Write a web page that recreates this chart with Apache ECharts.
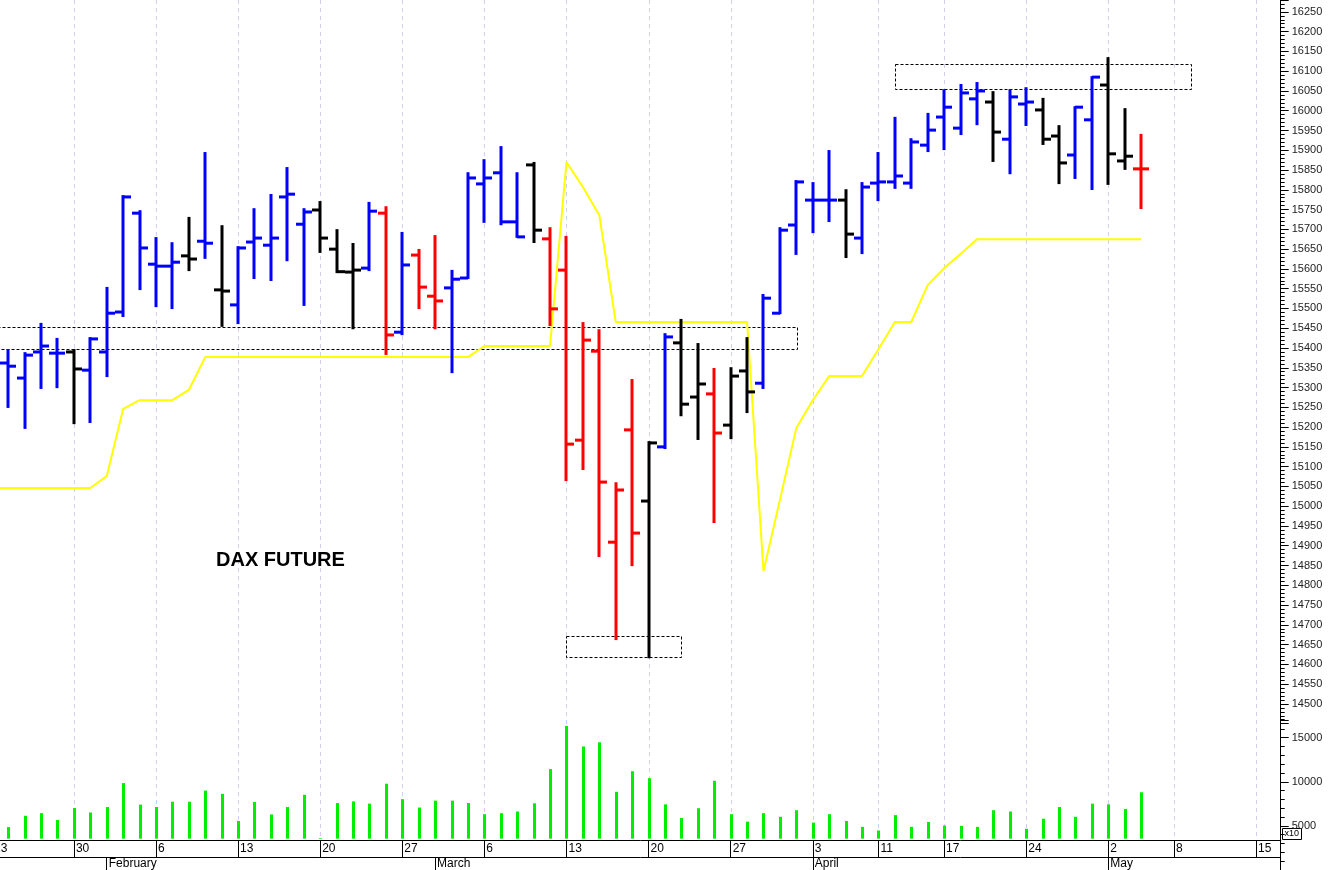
<!DOCTYPE html>
<html><head><meta charset="utf-8">
<script src="https://cdn.jsdelivr.net/npm/echarts@6/dist/echarts.min.js"></script>
<style>html,body{margin:0;padding:0;background:#fff}#c{width:1328px;height:870px}</style>
</head><body><div id="c"></div>
<script>
// ---------- DATA ----------
const dates = [
 '2023-01-23','2023-01-24','2023-01-25','2023-01-26','2023-01-27','2023-01-30','2023-01-31',
 '2023-02-01','2023-02-02','2023-02-03','2023-02-06','2023-02-07','2023-02-08','2023-02-09','2023-02-10',
 '2023-02-13','2023-02-14','2023-02-15','2023-02-16','2023-02-17','2023-02-20','2023-02-21','2023-02-22',
 '2023-02-23','2023-02-24','2023-02-27','2023-02-28',
 '2023-03-01','2023-03-02','2023-03-03','2023-03-06','2023-03-07','2023-03-08','2023-03-09','2023-03-10',
 '2023-03-13','2023-03-14','2023-03-15','2023-03-16','2023-03-17','2023-03-20','2023-03-21','2023-03-22',
 '2023-03-23','2023-03-24','2023-03-27','2023-03-28','2023-03-29','2023-03-30','2023-03-31',
 '2023-04-03','2023-04-04','2023-04-05','2023-04-06','2023-04-11','2023-04-12','2023-04-13','2023-04-14',
 '2023-04-17','2023-04-18','2023-04-19','2023-04-20','2023-04-21','2023-04-24','2023-04-25','2023-04-26',
 '2023-04-27','2023-04-28',
 '2023-05-02','2023-05-03','2023-05-04','2023-05-05','2023-05-08','2023-05-09','2023-05-10','2023-05-11',
 '2023-05-12','2023-05-15','2023-05-16'
];
const N8 = [null,null,null,null,null,null,null,null];
const openPx = [null,
 15362,15324,15390,15387,15390,15344,15390,15491,15741,15612,
 15607,15633,15670,15547,15509,15668,15660,15782,15713,15749,
 15650,15592,15602,15741,15440,15635,15531,15552,15577,15815,
 15843,15719,15863,15676,15597,15167,15392,14909,15193,15013,
 15150,15413,15276,15284,15205,15342,15311,15488,15711,15774,
 15774,15774,15678,15817,15820,15817,15913,15984,15956,16030,
 16022,15928,16017,16002,15936,15888,15977,16065,15873,15853].concat(N8);
const highPx = [null,
 15395,15387,15461,15423,15395,15425,15552,15784,15746,15678,
 15665,15729,15893,15708,15655,15751,15787,15855,15751,15769,
 15698,15663,15767,15756,15691,15648,15683,15595,15842,15875,
 15908,15842,15868,15703,15681,15463,15445,15058,15319,15162,
 15435,15471,15410,15347,15349,15425,15534,15703,15822,15817,
 15898,15799,15817,15893,15982,15928,15992,16052,16065,16070,
 16047,16052,16057,16030,15961,16009,16085,16133,16004,15939].concat(N8);
const lowPx = [null,
 15251,15198,15299,15301,15210,15213,15329,15481,15549,15506,
 15501,15597,15628,15456,15463,15577,15572,15622,15509,15643,
 15592,15450,15597,15385,15435,15501,15450,15339,15577,15719,
 15713,15681,15668,15458,15066,15094,14874,14664,14851,14618,
 15147,15230,15170,14960,15172,15238,15299,15488,15638,15693,
 15721,15630,15640,15774,15805,15805,15898,15903,15941,15966,
 15873,15842,15964,15916,15817,15830,15802,15815,15853,15754].concat(N8);
const closePx = [null,
 15354,15382,15405,15387,15347,15423,15488,15782,15653,15607,
 15617,15625,15665,15544,15653,15678,15678,15789,15744,15678,
 15593,15597,15746,15433,15610,15554,15519,15574,15830,15830,
 15719,15681,15698,15499,15157,15420,15061,15041,14932,15160,
 15428,15258,15309,15185,15329,15289,15526,15698,15820,15774,
 15774,15688,15807,15820,15835,15921,15951,16009,16045,16050,
 15946,16035,16022,15928,15868,16009,16085,15891,15885,15853].concat(N8);
// bar tone: B = blue, K = black, R = red
const barTone = [null,
 'B','B','B','B','K','B','B','B','B','B',
 'B','K','B','K','B','B','B','B','B','K',
 'K','K','B','R','B','R','R','B','B','B',
 'B','B','K','R','R','R','R','R','R','K',
 'B','K','K','R','K','K','B','B','B','B',
 'B','K','B','B','B','B','B','B','B','B',
 'K','B','B','K','K','B','B','K','K','R'].concat(N8);
const volume = [null,
 4860,6140,6440,5670,7030,6520,7140,9850,7410,7140,
 7740,7740,9000,8630,5560,7700,6300,7140,8520,3630,
 7590,7780,7520,9780,8030,7080,7860,7860,7590,6330,
 6440,6630,7560,11440,16330,14000,14480,8860,11190,10410,
 7440,5890,7000,10110,6330,5480,6440,6030,6780,5370,
 6330,5560,4890,4480,6220,4890,5440,5030,5000,4890,
 6780,6630,4670,5810,7140,6030,7520,7440,6920,8810].concat(N8);
const yellowLine = [15046,
 15046,15046,15046,15046,15046,15046,15076,15246,15268,15268,
 15268,15294,15377,15377,15377,15377,15377,15377,15377,15377,
 15377,15377,15377,15377,15377,15377,15377,15377,15377,15405,
 15405,15405,15405,15405,15870,15807,15736,15466,15466,15466,
 15466,15466,15466,15466,15466,15466,14836,15016,15198,15268,
 15329,15329,15329,15397,15466,15466,15559,15602,15638,15675,
 15675,15675,15675,15675,15675,15675,15675,15675,15675,15675].concat(N8);
// dashed boxes
const zoneStart = ['2023-01-23','2023-03-13','2023-04-12'];
const zoneEnd   = ['2023-03-31','2023-03-22','2023-05-09'];
const zoneLow   = [15397,14618,16055];
const zoneHigh  = [15453,14671,16118];
const priceTicks = {min:14450, max:16280, step:50};
const volumeTicks = {min:0, max:17000, step:5000};
const volumeAtAxisLine = 3550;
const monthNames = ['January','February','March','April','May','June'];
const chartTitle = 'DAX FUTURE';
const volumeUnit = 'x10';

// ---------- helpers ----------
const TONE = {B:'#0000ff', K:'#000000', R:'#ff0000'};
const dObj = dates.map(s => new Date(s + 'T12:00:00Z'));
const isWeekStart = dates.map((s,i) => i===0 || dObj[i].getUTCDay() < dObj[i-1].getUTCDay() || (dObj[i]-dObj[i-1]) > 4*86400000);
const isMonthStart = dates.map((s,i) => i>0 && dObj[i].getUTCMonth() !== dObj[i-1].getUTCMonth());
const X_MIN = 0.5, X_MAX = dates.length - 0.5;
const weekIdx = [], monthIdx = [];
dates.forEach((d,k) => { if (isWeekStart[k] && k >= X_MIN) weekIdx.push(k); if (isMonthStart[k]) monthIdx.push(k); });
const ohlcData = [], volData = [], yellowData = [];
dates.forEach((d,k) => {
  if (openPx[k] != null) ohlcData.push([k, openPx[k], highPx[k], lowPx[k], closePx[k]]);
  if (volume[k] != null) volData.push([k, volume[k]]);
  if (yellowLine[k] != null) yellowData.push([k, yellowLine[k]]);
});
const weekData = dates.map((d,k) => [k, 0]).filter(p => isWeekStart[p[0]]);
const zoneData = zoneStart.map((s,i) => [dates.indexOf(s), dates.indexOf(zoneEnd[i]), zoneLow[i], zoneHigh[i]]);

const FONT = '"Liberation Sans", Arial, sans-serif';
const GL = 0, GR = 47.3;
const hiddenX = (g) => ({type:'value', gridIndex:g, min:X_MIN, max:X_MAX, show:false});

const chart = echarts.init(document.getElementById('c'), null, {renderer:'canvas'});
chart.setOption({
  animation: false,
  backgroundColor: '#ffffff',
  title: {text: chartTitle, left: 211, top: 545, textStyle: {fontFamily: FONT, fontSize: 20, fontWeight: 'bold', color: '#000'}},
  grid: [
    {left: GL, right: GR, top: 0, height: 723.7},
    {left: GL, right: GR, top: 720, height: 151.5},
    {left: GL, right: GR, top: 0, height: 840}
  ],
  xAxis: [
    hiddenX(0), hiddenX(1),
    {type:'value', gridIndex:2, min:X_MIN, max:X_MAX, position:'bottom',
     axisLine: {show:true, lineStyle:{color:'#000', width:1}},
     axisTick: {show:true, length:17, lineStyle:{color:'#000'}, customValues: weekIdx},
     axisLabel: {show:true, customValues: weekIdx, formatter: (v) => String(parseInt(dates[Math.round(v)].slice(8),10)),
       align:'left', padding:[0,0,0,2], margin:3, fontSize:12, color:'#000', fontFamily: FONT,
       showMinLabel:true, showMaxLabel:true},
     splitLine: {show:false}},
    {type:'value', gridIndex:2, min:X_MIN, max:X_MAX, position:'bottom', offset: 17,
     axisLine: {show:true, lineStyle:{color:'#000', width:1}},
     axisTick: {show:true, length:13, lineStyle:{color:'#000'}, customValues: monthIdx},
     axisLabel: {show:true, customValues: monthIdx, formatter: (v) => monthNames[parseInt(dates[Math.round(v)].slice(5,7),10)-1],
       align:'left', padding:[0,0,0,2], margin:1, fontSize:12, color:'#000', fontFamily: FONT},
     splitLine: {show:false}}
  ],
  yAxis: [
    {type:'value', gridIndex:0, position:'right', min: priceTicks.min, max: priceTicks.max, interval: priceTicks.step,
     axisLine:{show:true, lineStyle:{color:'#000'}},
     axisTick:{show:true, length:8, lineStyle:{color:'#000'}},
     minorTick:{show:true, splitNumber:5, length:4, lineStyle:{color:'#000'}},
     splitLine:{show:false},
     axisLabel:{margin:11, fontSize:11, color:'#222', fontFamily: FONT,
       formatter:(v) => (v % 50 === 0 && v >= 14500) ? String(v) : ''}},
    {type:'value', gridIndex:1, position:'right', min: volumeTicks.min, max: volumeTicks.max, interval: volumeTicks.step,
     axisLine:{show:true, lineStyle:{color:'#000'}},
     axisTick:{show:true, length:8, lineStyle:{color:'#000'}},
     minorTick:{show:true, splitNumber:5, length:4, lineStyle:{color:'#000'}},
     splitLine:{show:false},
     axisLabel:{margin:11, fontSize:11, color:'#222', fontFamily: FONT,
       formatter:(v) => (v > 0 && v % 5000 === 0) ? String(v) : ''}},
    {type:'value', gridIndex:2, min:0, max:1, show:false}
  ],
  series: [
    {type:'custom', name:'weeks', xAxisIndex:2, yAxisIndex:2, z:0, silent:true, data: weekData,
     encode:{x:0, y:1},
     renderItem: (params, api) => {
       const x = Math.round(api.coord([api.value(0), 0])[0]) + 0.5;
       const cs = params.coordSys;
       return {type:'line', shape:{x1:x, y1:cs.y, x2:x, y2:cs.y+cs.height},
               style:{stroke:'#cfd0ec', lineWidth:1, lineDash:[4,4]}};
     }},
    {type:'custom', name:'zones', xAxisIndex:0, yAxisIndex:0, z:1, silent:true, data: zoneData,
     encode:{x:[0,1], y:[2,3]},
     renderItem: (params, api) => {
       const p0 = api.coord([api.value(0), api.value(3)]);
       const p1 = api.coord([api.value(1), api.value(2)]);
       return {type:'rect', shape:{x:Math.round(p0[0])+0.5, y:Math.round(p0[1])+0.5, width:Math.round(p1[0]-p0[0]), height:Math.round(p1[1]-p0[1])},
               style:{fill:null, stroke:'#000', lineWidth:1, lineDash:[3,2]}};
     }},
    {type:'line', name:'yellow', xAxisIndex:0, yAxisIndex:0, z:2, data: yellowData, showSymbol:false, symbol:'none',
     lineStyle:{color:'#ffff00', width:2}, clip:true, silent:true},
    {type:'custom', name:'ohlc', xAxisIndex:0, yAxisIndex:0, z:3, silent:true, data: ohlcData,
     encode:{x:0, y:[1,2,3,4]},
     renderItem: (params, api) => {
       const k = api.value(0);
       const po = api.coord([k, api.value(1)]);
       const ph = api.coord([k, api.value(2)]);
       const pl = api.coord([k, api.value(3)]);
       const pc = api.coord([k, api.value(4)]);
       const col = TONE[barTone[k]];
       const x = Math.round(ph[0]), t = 8;
       return {type:'group', children:[
         {type:'line', shape:{x1:x, y1:ph[1]-1, x2:x, y2:pl[1]+1}, style:{stroke:col, lineWidth:3}},
         {type:'line', shape:{x1:x-t, y1:po[1], x2:x, y2:po[1]}, style:{stroke:col, lineWidth:3}},
         {type:'line', shape:{x1:x, y1:pc[1], x2:x+t, y2:pc[1]}, style:{stroke:col, lineWidth:3}}
       ]};
     }},
    {type:'custom', name:'volume', xAxisIndex:1, yAxisIndex:1, z:3, silent:true, data: volData,
     encode:{x:0, y:1},
     renderItem: (params, api) => {
       const k = api.value(0);
       const top = api.coord([k, api.value(1)]);
       const base = api.coord([k, volumeAtAxisLine]);
       const x = Math.round(top[0]);
       return {type:'rect', shape:{x:x-1, y:top[1], width:3, height:base[1]-top[1]}, style:{fill:'#00ee00'}};
     }}
  ],
  graphic: [
    {type:'text', left: -6, top: 843, style:{text: String(parseInt(dates[0].slice(8),10)), fontSize:12, fontFamily: FONT, fill:'#000'}},
    {type:'group', left: 1282, top: 828, children:[
      {type:'rect', shape:{x:0, y:0, width:19, height:11}, style:{fill:'#fff', stroke:'#000', lineWidth:1}},
      {type:'text', x:2, y:1, style:{text: volumeUnit, fontSize:9, fontFamily: FONT, fill:'#000'}}
    ]}
  ]
});
</script></body></html>
